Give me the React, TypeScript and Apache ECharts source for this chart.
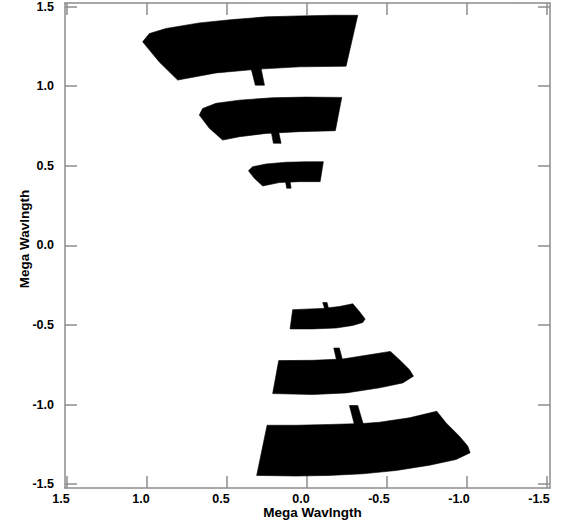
import React, { useEffect, useRef } from "react";
import * as echarts from "echarts";

// Tick values (Mega wavelength)
const X_TICKS = [1.5, 1.0, 0.5, 0.0, -0.5, -1.0, -1.5];
const Y_TICKS = [1.5, 1.0, 0.5, 0.0, -0.5, -1.0, -1.5];
const AXIS_TITLE = "Mega Wavlngth";

// UV coverage outlines, [u, v] in mega-wavelengths
const ARC_A = [[-0.319, 1.445], [-0.246, 1.125], [0.046, 1.121], [0.296, 1.107], [0.566, 1.083], [0.806, 1.038], [0.921, 1.152], [1.025, 1.278], [0.983, 1.33], [0.879, 1.362], [0.671, 1.397], [0.463, 1.418], [0.254, 1.435], [0.046, 1.441], [-0.163, 1.445]];
const STEM_A = [[0.352, 1.13], [0.289, 1.13], [0.264, 1.006], [0.321, 1.006]];
const ARC_B = [[-0.219, 0.929], [-0.179, 0.72], [0.046, 0.714], [0.254, 0.703], [0.421, 0.682], [0.525, 0.661], [0.608, 0.735], [0.671, 0.818], [0.65, 0.86], [0.566, 0.892], [0.421, 0.912], [0.213, 0.927], [0.004, 0.931]];
const STEM_B = [[0.2225, 0.72], [0.177, 0.72], [0.16, 0.641], [0.208, 0.641]];
const ARC_C = [[-0.104, 0.525], [-0.084, 0.4], [0.046, 0.4], [0.171, 0.394], [0.275, 0.373], [0.327, 0.421], [0.364, 0.469], [0.338, 0.494], [0.254, 0.511], [0.129, 0.522], [0.004, 0.525]];
const STEM_C = [[0.133, 0.405], [0.104, 0.405], [0.0975, 0.359], [0.125, 0.359]];
const ARC_D = [[0.0875, -0.404], [0.104, -0.525], [-0.0375, -0.525], [-0.184, -0.519], [-0.288, -0.503], [-0.35, -0.484], [-0.365, -0.463], [-0.329, -0.415], [-0.288, -0.367], [-0.204, -0.384], [-0.1, -0.396]];
const STEM_D = [[-0.1, -0.359], [-0.1275, -0.359], [-0.1375, -0.405], [-0.115, -0.405]];
const ARC_E = [[0.175, -0.724], [0.2125, -0.931], [-0.0375, -0.937], [-0.246, -0.927], [-0.455, -0.895], [-0.6, -0.864], [-0.667, -0.822], [-0.642, -0.781], [-0.579, -0.718], [-0.523, -0.666], [-0.392, -0.687], [-0.225, -0.714], [-0.0375, -0.722]];
const STEM_E = [[-0.169, -0.645], [-0.204, -0.645], [-0.225, -0.725], [-0.1875, -0.725]];
const ARC_F = [[0.2475, -1.13], [0.3125, -1.445], [0.066, -1.449], [-0.142, -1.445], [-0.35, -1.435], [-0.559, -1.414], [-0.767, -1.381], [-0.933, -1.345], [-1.021, -1.303], [-1.006, -1.261], [-0.954, -1.199], [-0.871, -1.115], [-0.8125, -1.042], [-0.642, -1.083], [-0.454, -1.111], [-0.35, -1.119], [-0.142, -1.125], [0.066, -1.13]];
const STEM_F = [[-0.267, -1.006], [-0.319, -1.006], [-0.354, -1.125], [-0.298, -1.125]];

const SHAPES = [ARC_A, STEM_A, ARC_B, STEM_B, ARC_C, STEM_C, ARC_D, STEM_D, ARC_E, STEM_E, ARC_F, STEM_F];

const X_MIN = -1.52;
const X_MAX = 1.51;
const Y_MIN = -1.524;
const Y_MAX = 1.522;

const FONT = "'Liberation Sans', Arial, Helvetica, sans-serif";
const AXIS_COLOR = "#8c8c8c";

export default function App() {
  const ref = useRef<HTMLDivElement>(null);

  useEffect(() => {
    if (!ref.current) return;
    const chart = echarts.init(ref.current, null, { renderer: "svg" });
    const fmt = (v: number) => Number(v).toFixed(1);
    const lineStyle = { color: AXIS_COLOR, width: 1.5 };
    const baseX = {
      type: "value" as const,
      min: X_MIN,
      max: X_MAX,
      inverse: true,
      splitLine: { show: false },
      axisLine: { show: true, onZero: false, lineStyle },
      axisTick: { show: true, inside: true, length: 12, lineStyle, customValues: X_TICKS },
    };
    const baseY = {
      type: "value" as const,
      min: Y_MIN,
      max: Y_MAX,
      splitLine: { show: false },
      axisLine: { show: true, onZero: false, lineStyle },
      axisTick: { show: true, inside: true, length: 12, lineStyle, customValues: Y_TICKS },
    };
    chart.setOption({
      animation: false,
      backgroundColor: "#ffffff",
      grid: { left: 65, right: 13, top: 3, bottom: 32, containLabel: false, outerBoundsMode: "none" },
      xAxis: [
        {
          ...baseX,
          position: "bottom",
          name: AXIS_TITLE,
          nameLocation: "middle",
          nameGap: 18,
          nameMoveOverlap: false,
          nameTextStyle: { fontFamily: FONT, fontWeight: "bold", fontSize: 13.5, lineHeight: 13.5, color: "#000", padding: [0, 0, 0, 10] },
          axisLabel: {
            show: true,
            customValues: X_TICKS,
            formatter: fmt,
            align: "right",
            padding: [0, -3, 0, 0],
            margin: 5,
            fontFamily: FONT,
            fontWeight: "bold",
            fontSize: 12.5,
            lineHeight: 12.5,
            color: "#000",
          },
        },
        { ...baseX, position: "top", axisLabel: { show: false } },
      ],
      yAxis: [
        {
          ...baseY,
          position: "left",
          name: AXIS_TITLE,
          nameLocation: "middle",
          nameGap: 34,
          nameMoveOverlap: false,
          nameTextStyle: { fontFamily: FONT, fontWeight: "bold", fontSize: 13.5, color: "#000", padding: [0, 0, 0, 13] },
          axisLabel: {
            show: true,
            customValues: Y_TICKS,
            formatter: fmt,
            margin: 11,
            fontFamily: FONT,
            fontWeight: "bold",
            fontSize: 12.5,
            color: "#000",
          },
        },
        { ...baseY, position: "right", axisLabel: { show: false } },
      ],
      series: [
        {
          type: "custom",
          xAxisIndex: 0,
          yAxisIndex: 0,
          clip: true,
          data: SHAPES.map((s, i) => [s[0][0], s[0][1], i]),
          renderItem: (params: any, api: any) => {
            const pts = SHAPES[params.dataIndex].map((p) => api.coord(p));
            return {
              type: "polygon",
              shape: { points: pts },
              style: { fill: "#000", stroke: "#000", lineWidth: 0.6 },
            };
          },
        },
      ],
    });
    return () => chart.dispose();
  }, []);

  return <div ref={ref} style={{ width: 563, height: 520, position: "absolute", left: 0, top: 0 }} />;
}
